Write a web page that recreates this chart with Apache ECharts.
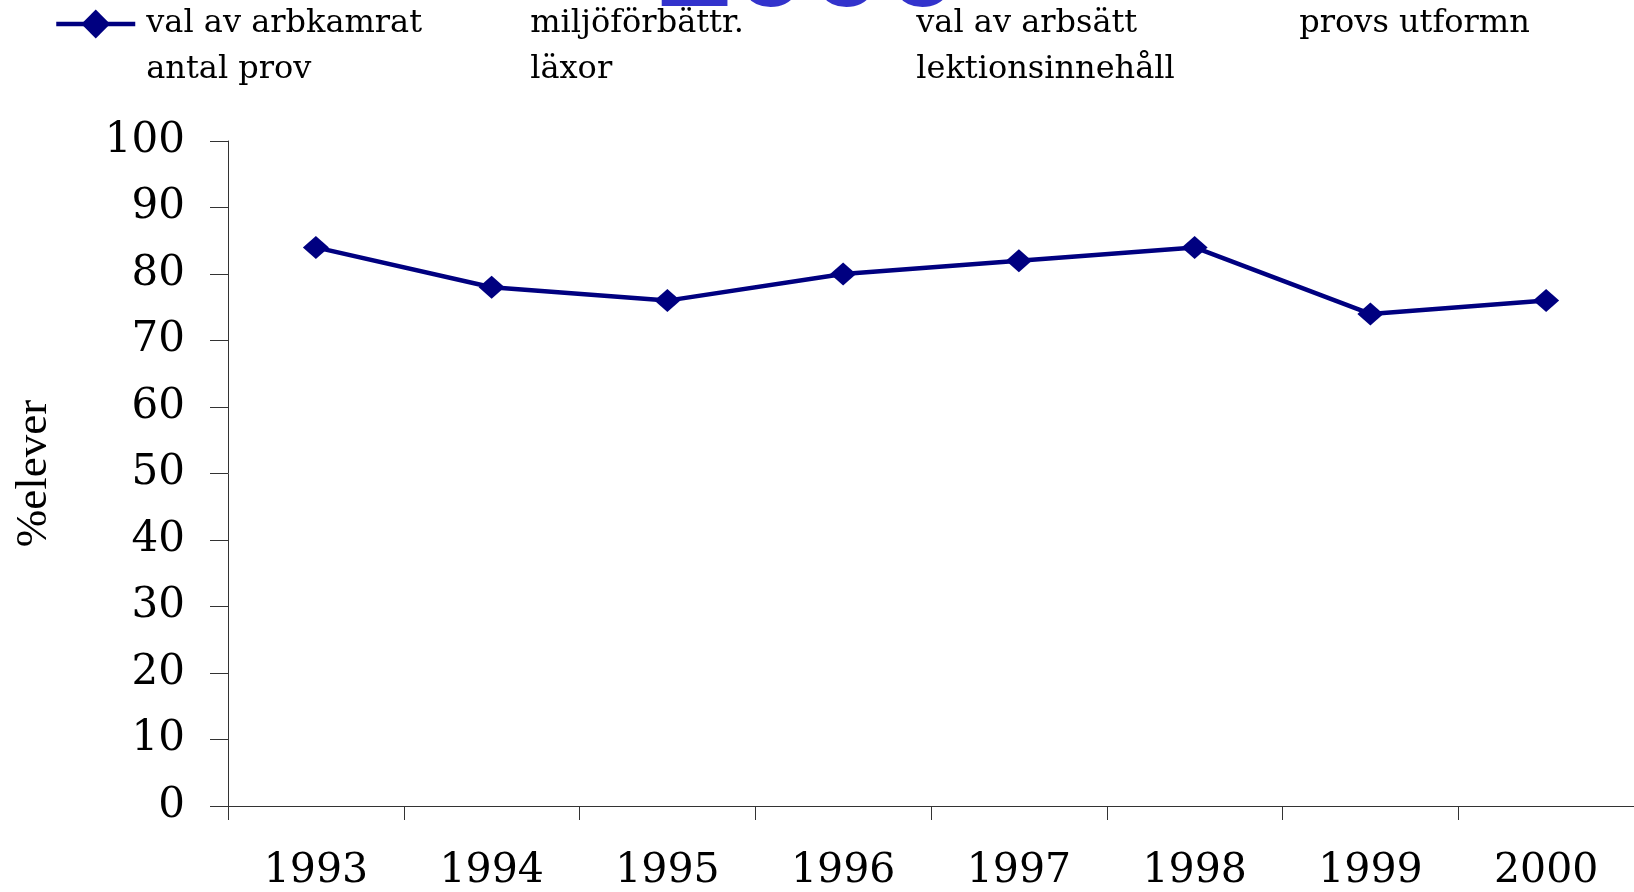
<!DOCTYPE html>
<html>
<head>
<meta charset="utf-8">
<script src="https://cdn.jsdelivr.net/npm/echarts@6/dist/echarts.min.js"></script>
<style>
html,body{margin:0;padding:0;background:#fff;}
#chart{width:1634px;height:892px;}
</style>
</head>
<body>
<div id="chart"></div>
<script>
const years = ['1993','1994','1995','1996','1997','1998','1999','2000'];
const valAvArbkamrat = [84, 78, 76, 80, 82, 84, 74, 76];
const legendNames = ['val av arbkamrat','miljöförbättr.','val av arbsätt','provs utformn','antal prov','läxor','lektionsinnehåll'];
const yTicks = [0, 10, 20, 30, 40, 50, 60, 70, 80, 90, 100];
const yAxisName = '%elever';
const bannerText = '2000';

const serif = '"DejaVu Serif", serif';
const legendLeft = [54, 438, 824, 1207, 54, 438, 824];
const legendTop = [8, 8, 8, 8, 54, 54, 54];

const series = legendNames.map((name, i) => {
  if (i === 0) {
    return {
      name: name,
      type: 'line',
      data: valAvArbkamrat,
      color: '#000080',
      symbol: 'diamond',
      symbolSize: [26, 23],
      lineStyle: {width: 4.5, color: '#000080'},
      itemStyle: {color: '#000080'}
    };
  }
  return {
    name: name,
    type: 'line',
    data: [],
    color: 'rgba(0,0,0,0)',
    symbol: 'none',
    lineStyle: {width: 4, color: 'rgba(0,0,0,0)'},
    itemStyle: {color: 'rgba(0,0,0,0)'}
  };
});

const legends = legendNames.map((name, i) => ({
  data: [name],
  left: legendLeft[i],
  top: legendTop[i],
  padding: 0,
  itemWidth: 79,
  itemHeight: 36,
  selectedMode: false,
  lineStyle: {width: 4.5},
  textStyle: {fontFamily: serif, fontSize: 32, color: '#000', padding: [0, 0, 0, 6]}
}));

const chart = echarts.init(document.getElementById('chart'), null, {renderer: 'canvas'});
chart.setOption({
  animation: false,
  backgroundColor: '#fff',
  graphic: [{
    type: 'text',
    x: 657,
    y: -30,
    scaleX: 1.05,
    z: -1,
    style: {
      text: bannerText,
      font: 'bold 130px "Liberation Sans", Arial, sans-serif',
      fill: '#3333CC',
      verticalAlign: 'middle',
      align: 'left'
    }
  }],
  legend: legends,
  grid: {left: 228, right: 0, top: 141, bottom: 86, containLabel: false},
  xAxis: {
    type: 'category',
    data: years,
    boundaryGap: true,
    axisLine: {show: true, lineStyle: {color: '#333', width: 1}},
    axisTick: {show: true, length: 14, lineStyle: {color: '#333'}},
    axisLabel: {fontFamily: serif, fontSize: 41, color: '#000', margin: 45}
  },
  yAxis: {
    type: 'value',
    min: yTicks[0],
    max: yTicks[yTicks.length - 1],
    interval: 10,
    name: yAxisName,
    nameLocation: 'middle',
    nameGap: 171,
    nameRotate: 90,
    nameTextStyle: {fontFamily: '"Liberation Serif", serif', fontSize: 45, color: '#000'},
    splitLine: {show: false},
    axisLine: {show: true, lineStyle: {color: '#333', width: 1}},
    axisTick: {show: true, length: 18, lineStyle: {color: '#333'}},
    axisLabel: {fontFamily: serif, fontSize: 42, color: '#000', margin: 43}
  },
  series: series
});
</script>
</body>
</html>
